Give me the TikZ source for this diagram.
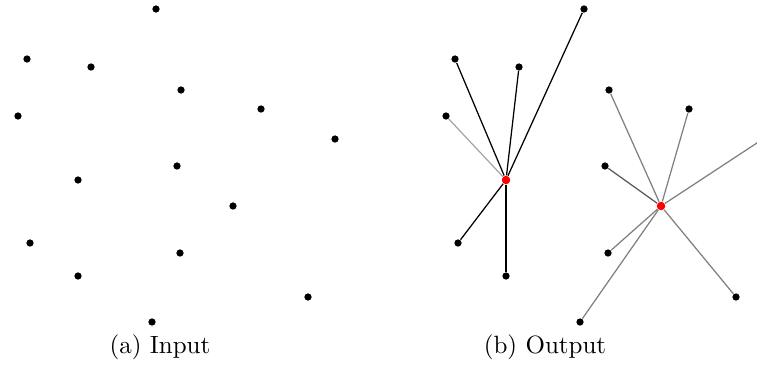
\documentclass[tikz,border=0pt]{standalone}
\begin{document}
\begin{tikzpicture}[
    x=0.4pt, y=-0.4pt, % one unit = one pixel of the layout
    dot/.style={circle, fill=black, inner sep=0pt, minimum size=2.9pt}, % point style
    hub/.style={circle, fill=red, inner sep=0pt, minimum size=3.4pt},   % centre style
    link/.style={line width=0.5pt}
]
    \useasboundingbox (0,0) rectangle (757,369);

    % --- LEFT FIGURE (Input) ---
    \foreach \name/\x/\y in {a1/156/9, a2/27/59, a3/91/67, a4/181/90, a5/18/116,
        a6/261/109, a7/335/139, a8/177/166, a9/78/180, a10/233/206,
        a11/30/243, a12/180/253, a13/78/276, a14/308/297, a15/152/322}
        \node[dot] (\name) at (\x,\y) {};

    \node (capin) at (160,347) {(a) Input};

    % --- RIGHT FIGURE (Output) ---
    \begin{scope}[shift={(428,0)}]
        \foreach \name/\x/\y in {b1/156/9, b2/27/59, b3/91/67, b4/181/90, b5/18/116,
            b6/261/109, b8/177/166, b11/30/243, b12/180/253, b13/78/276,
            b14/308/297, b15/152/322}
            \node[dot] (\name) at (\x,\y) {};
        \coordinate (b7) at (335,139); % outside the frame
        \node[hub] (b9) at (78,180) {};
        \node[hub] (b10) at (233,206) {};

        % Star round the first centre
        \foreach \tip in {b1, b2, b3, b11, b13}
            \draw[link] (b9) -- (\tip);
        \draw[link, gray!70] (b9) -- (b5);

        % Star round the second centre
        \foreach \tip in {b4, b6, b7, b12, b14, b15}
            \draw[link, gray] (b10) -- (\tip);
        \draw[link, black!65] (b10) -- (b8);
    \end{scope}

    \node (capout) at (545,347) {(b) Output};

\end{tikzpicture}
\end{document}
